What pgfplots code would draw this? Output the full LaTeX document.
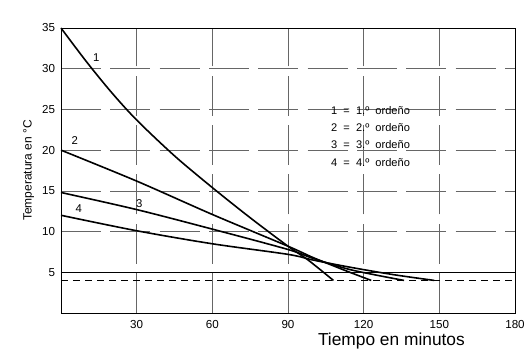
\documentclass[border=0pt]{standalone}
\usepackage{pgfplots}
\pgfplotsset{compat=1.18}
\usepackage{fontspec}
\setmainfont{Liberation Sans}
\begin{document}
\begin{tikzpicture}
\begin{axis}[
  scale only axis,
  width=340.5pt, height=213.75pt,
  xmin=0, xmax=180, ymin=0, ymax=35,
  xtick={30,60,90,120,150,180},
  ytick={5,10,15,20,25,30,35},
  major tick length=0pt,
  axis line style={black, line width=0.6pt},
  grid=major,
  major grid style={black!60, line width=0.45pt, dash pattern=on 30pt off 7pt},
  tick label style={font=\fontsize{8.7}{10}\selectfont},
  /pgf/number format/assume math mode=true,
  xticklabel style={yshift=-2pt},
  yticklabel style={xshift=-1pt},
  ylabel={Temperatura en °C},
  ylabel style={font=\fontsize{9}{10}\selectfont, yshift=-1pt},
  xlabel={Tiempo en minutos},
  xlabel style={font=\fontsize{13}{15}\selectfont, at={(axis cs:131,0)}, anchor=north, inner sep=0pt, yshift=-15pt},
  clip=false,
]
% reference lines
\addplot[black, line width=0.7pt] coordinates {(0,5) (180,5)};
\addplot[black, line width=0.6pt, dash pattern=on 5pt off 4pt] coordinates {(0,4) (180,4)};
% curve 1
\addplot[black, line width=1.2pt, smooth] coordinates {
(0,35) (10,30.9) (20,27.1) (30,23.7) (45,19.3) (60,15.4) (75,11.7) (90,8.2) (98,6.5) (108,4)};
% curve 2
\addplot[black, line width=1.2pt, smooth] coordinates {
(0,20) (30,16.2) (60,12.1) (90,8.2) (100,6.8) (112,5.3) (123,4)};
% curve 3
\addplot[black, line width=1.2pt, smooth] coordinates {
(0,14.8) (30,12.7) (60,10.3) (90,7.8) (100,6.7) (115,5.3) (136,4)};
% curve 4
\addplot[black, line width=1.2pt, smooth] coordinates {
(0,12) (30,10.1) (60,8.5) (90,7.2) (100,6.5) (115,5.6) (132,4.7) (148,4)};
% curve labels
\node[font=\fontsize{8.5}{10}\selectfont] at (axis cs:14,31.4) {1};
\node[font=\fontsize{8.5}{10}\selectfont] at (axis cs:5.5,21.2) {2};
\node[font=\fontsize{8.5}{10}\selectfont] at (axis cs:31,13.4) {3};
\node[font=\fontsize{8.5}{10}\selectfont] at (axis cs:7,12.8) {4};
% key
\node[anchor=west, font=\fontsize{8.3}{10}\selectfont, inner sep=0pt] at (axis cs:107,24.9) {1\ \ =\ \ 1.º\ \ ordeño};
\node[anchor=west, font=\fontsize{8.3}{10}\selectfont, inner sep=0pt] at (axis cs:107,22.8) {2\ \ =\ \ 2.º\ \ ordeño};
\node[anchor=west, font=\fontsize{8.3}{10}\selectfont, inner sep=0pt] at (axis cs:107,20.7) {3\ \ =\ \ 3.º\ \ ordeño};
\node[anchor=west, font=\fontsize{8.3}{10}\selectfont, inner sep=0pt] at (axis cs:107,18.5) {4\ \ =\ \ 4.º\ \ ordeño};
\end{axis}
\pgfresetboundingbox
\useasboundingbox (-45.75pt,-37.5pt) rectangle (353.25pt,234.75pt);
\end{tikzpicture}
\end{document}
